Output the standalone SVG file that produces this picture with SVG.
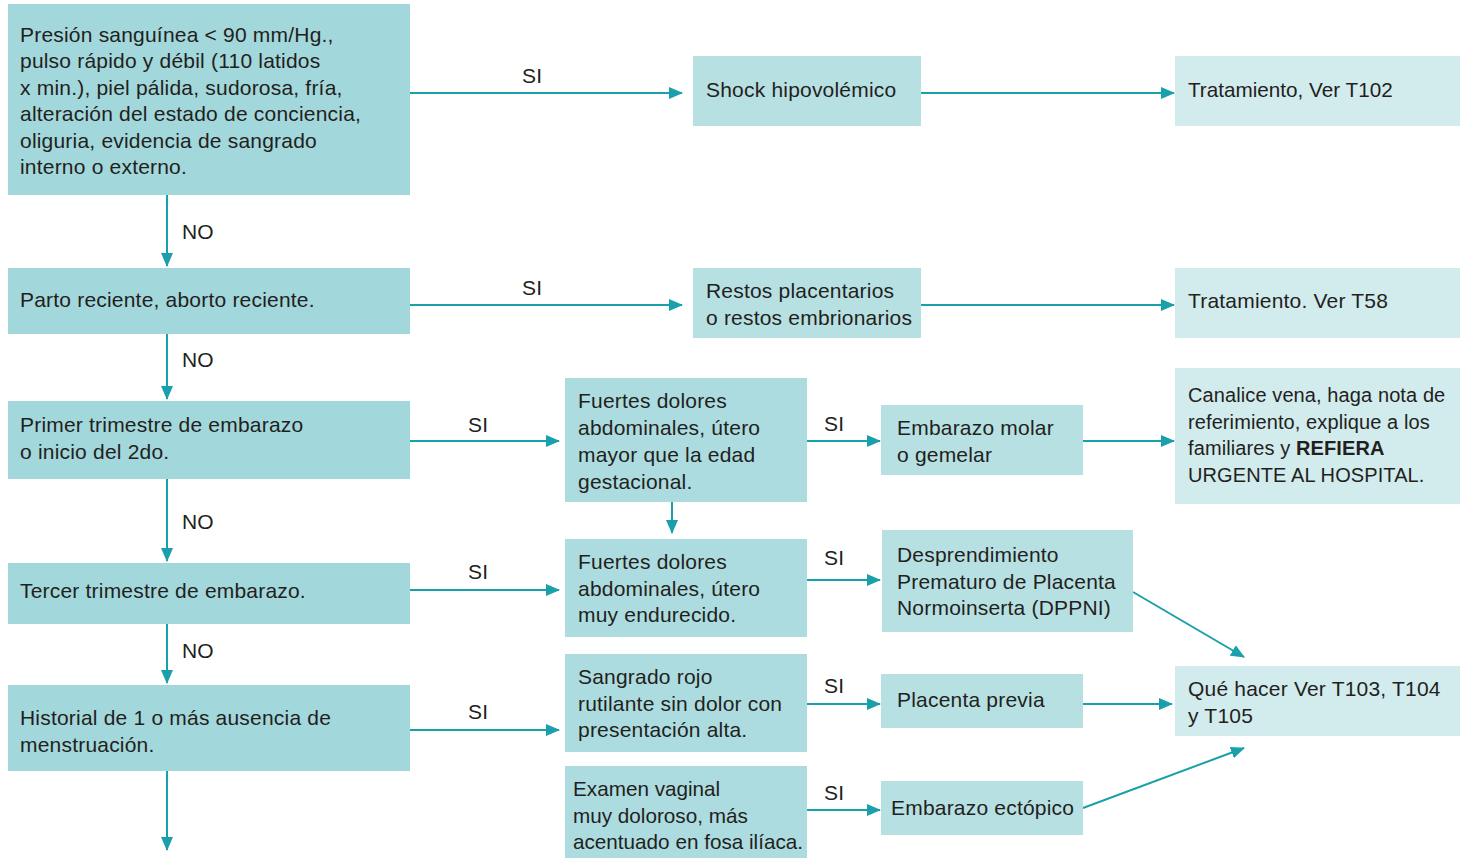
<svg xmlns="http://www.w3.org/2000/svg" width="1461" height="859" viewBox="0 0 1461 859">
<style>
text{font-family:"Liberation Sans",Arial,sans-serif;font-size:21px;letter-spacing:0.2px;fill:#231f20}
.t{font-size:20px;letter-spacing:0.1px}
.u{font-size:20.7px;letter-spacing:0}
.l{fill:#a2d7db}
.m{fill:#b7e0e3}
.n{fill:#acdcdf}
.r{fill:#d2ebed}
.c line{stroke:#1aa0aa;stroke-width:2;marker-end:url(#ah)}
</style>
<defs>
<marker id="ah" viewBox="0 0 14 12" refX="13" refY="6" markerWidth="14" markerHeight="12" markerUnits="userSpaceOnUse" orient="auto">
<path d="M0,0 L14,6 L0,12 z" fill="#1aa0aa"/>
</marker>
</defs>
<rect width="1461" height="859" fill="#fff"/>
<g class="c">
<line x1="167" y1="195" x2="167" y2="266"/>
<line x1="167" y1="334" x2="167" y2="399"/>
<line x1="167" y1="479" x2="167" y2="561"/>
<line x1="167" y1="624" x2="167" y2="683"/>
<line x1="167" y1="771" x2="167" y2="850"/>
<line x1="410" y1="93" x2="682" y2="93"/>
<line x1="921" y1="93" x2="1174" y2="93"/>
<line x1="410" y1="305" x2="682" y2="305"/>
<line x1="921" y1="305" x2="1174" y2="305"/>
<line x1="410" y1="441" x2="559" y2="441"/>
<line x1="807" y1="441" x2="880" y2="441"/>
<line x1="1083" y1="441" x2="1174" y2="441"/>
<line x1="672" y1="502" x2="672" y2="533"/>
<line x1="410" y1="590" x2="559" y2="590"/>
<line x1="807" y1="580" x2="880" y2="580"/>
<line x1="1133" y1="592" x2="1244" y2="657"/>
<line x1="410" y1="730" x2="559" y2="730"/>
<line x1="807" y1="704" x2="880" y2="704"/>
<line x1="1083" y1="704" x2="1172" y2="704"/>
<line x1="807" y1="810" x2="880" y2="810"/>
<line x1="1083" y1="808" x2="1244" y2="748"/>
<text x="522" y="83">SI</text>
<text x="522" y="295">SI</text>
<text x="468" y="432">SI</text>
<text x="468" y="579">SI</text>
<text x="468" y="719">SI</text>
<text x="824" y="431">SI</text>
<text x="824" y="565">SI</text>
<text x="824" y="693">SI</text>
<text x="824" y="800">SI</text>
<text x="182" y="239">NO</text>
<text x="182" y="367">NO</text>
<text x="182" y="529">NO</text>
<text x="182" y="658">NO</text>
</g>
<g id="n1"><rect class="l" x="8" y="4" width="402" height="191"/>
<text x="20" y="41.5"><tspan x="20">Presión sanguínea &lt; 90 mm/Hg.,</tspan><tspan x="20" dy="26.5">pulso rápido y débil (110 latidos</tspan><tspan x="20" dy="26.5">x min.), piel pálida, sudorosa, fría,</tspan><tspan x="20" dy="26.5">alteración del estado de conciencia,</tspan><tspan x="20" dy="26.5">oliguria, evidencia de sangrado</tspan><tspan x="20" dy="26.5">interno o externo.</tspan></text></g>
<g id="n2"><rect class="l" x="8" y="268" width="402" height="66"/><text x="20" y="307">Parto reciente, aborto reciente.</text></g>
<g id="n3"><rect class="l" x="8" y="401" width="402" height="78"/><text x="20" y="432"><tspan x="20">Primer trimestre de embarazo</tspan><tspan x="20" dy="27">o inicio del 2do.</tspan></text></g>
<g id="n4"><rect class="l" x="8" y="563" width="402" height="61"/><text x="20" y="598">Tercer trimestre de embarazo.</text></g>
<g id="n5"><rect class="l" x="8" y="685" width="402" height="86"/><text x="20" y="725"><tspan x="20">Historial de 1 o más ausencia de</tspan><tspan x="20" dy="27">menstruación.</tspan></text></g>
<g id="n6"><rect class="m" x="693" y="56" width="228" height="70"/><text x="706" y="97">Shock hipovolémico</text></g>
<g id="n7"><rect class="r" x="1175" y="56" width="285" height="70"/><text x="1188" y="97" class="u">Tratamiento, Ver T102</text></g>
<g id="n8"><rect class="m" x="693" y="268" width="228" height="70"/><text x="706" y="298"><tspan x="706">Restos placentarios</tspan><tspan x="706" dy="27">o restos embrionarios</tspan></text></g>
<g id="n9"><rect class="r" x="1175" y="268" width="285" height="70"/><text x="1188" y="308">Tratamiento. Ver T58</text></g>
<g id="n10"><rect class="n" x="565" y="378" width="242" height="124"/><text x="578" y="408"><tspan x="578">Fuertes dolores</tspan><tspan x="578" dy="27">abdominales, útero</tspan><tspan x="578" dy="27">mayor que la edad</tspan><tspan x="578" dy="27">gestacional.</tspan></text></g>
<g id="n11"><rect class="m" x="881" y="405" width="202" height="70"/><text x="897" y="435"><tspan x="897">Embarazo molar</tspan><tspan x="897" dy="27">o gemelar</tspan></text></g>
<g id="n12"><rect class="r" x="1175" y="368" width="285" height="136"/><text class="t" x="1188" y="402"><tspan x="1188">Canalice vena, haga nota de</tspan><tspan x="1188" dy="26.7">referimiento, explique a los</tspan><tspan x="1188" dy="26.7">familiares y <tspan font-weight="bold">REFIERA</tspan></tspan><tspan x="1188" dy="26.7">URGENTE AL HOSPITAL.</tspan></text></g>
<g id="n13"><rect class="n" x="565" y="539" width="242" height="98"/><text x="578" y="569"><tspan x="578">Fuertes dolores</tspan><tspan x="578" dy="26.5">abdominales, útero</tspan><tspan x="578" dy="26.5">muy endurecido.</tspan></text></g>
<g id="n14"><rect class="m" x="882" y="530" width="251" height="102"/><text x="897" y="562"><tspan x="897">Desprendimiento</tspan><tspan x="897" dy="26.5">Prematuro de Placenta</tspan><tspan x="897" dy="26.5">Normoinserta (DPPNI)</tspan></text></g>
<g id="n15"><rect class="n" x="565" y="654" width="242" height="98"/><text x="578" y="684"><tspan x="578">Sangrado rojo</tspan><tspan x="578" dy="26.5">rutilante sin dolor con</tspan><tspan x="578" dy="26.5">presentación alta.</tspan></text></g>
<g id="n16"><rect class="m" x="881" y="674" width="202" height="54"/><text x="897" y="707">Placenta previa</text></g>
<g id="n17"><rect class="r" x="1175" y="666" width="285" height="70"/><text x="1188" y="696"><tspan x="1188">Qué hacer Ver T103, T104</tspan><tspan x="1188" dy="27">y T105</tspan></text></g>
<g id="n18"><rect class="n" x="565" y="766" width="242" height="92"/><text class="u" x="573" y="796"><tspan x="573">Examen vaginal</tspan><tspan x="573" dy="26.5">muy doloroso, más</tspan><tspan x="573" dy="26.5">acentuado en fosa ilíaca.</tspan></text></g>
<g id="n19"><rect class="m" x="881" y="781" width="202" height="54"/><text x="891" y="815">Embarazo ectópico</text></g>
</svg>
